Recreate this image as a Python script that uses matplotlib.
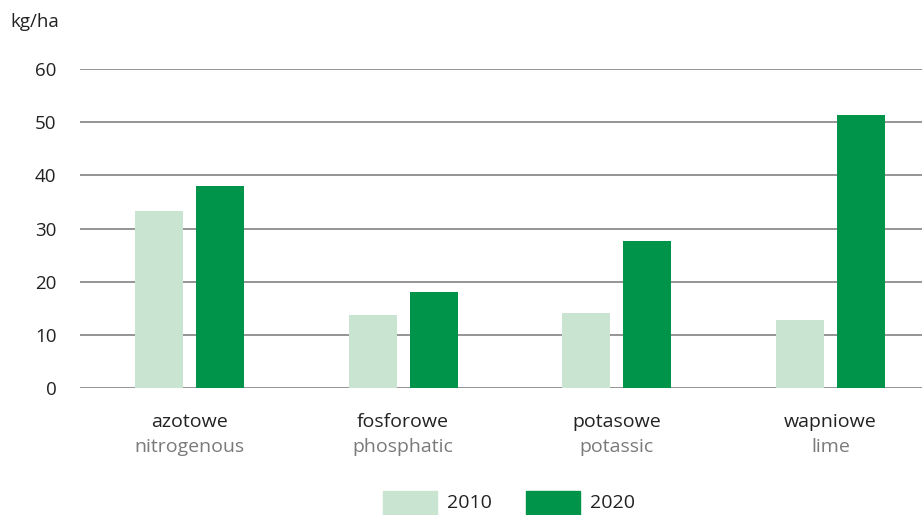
import matplotlib.pyplot as plt
import matplotlib.patches as mpatches
import numpy as np

plt.rcParams['font.family'] = ['Open Sans', 'DejaVu Sans']

# data
categories_pl = ["azotowe", "fosforowe", "potasowe", "wapniowe"]
categories_en = ["nitrogenous", "phosphatic", "potassic", "lime"]
values_2010 = [33.2, 13.8, 14.1, 12.7]
values_2020 = [38.0, 18.1, 27.7, 51.4]
years = ["2010", "2020"]
yticks = [0, 10, 20, 30, 40, 50, 60]

light = "#c9e5d2"
dark = "#00944a"

fig = plt.figure(figsize=(9.22, 5.15), dpi=100)
ax = fig.add_axes([80/922, 127/515, 842/922, 319/515])

x = np.arange(len(categories_pl))
w = 0.225
ax.bar(x - 0.143, values_2010, w, color=light, zorder=3)
ax.bar(x + 0.143, values_2020, w, color=dark, zorder=3)

ax.set_ylim(0, 60)
ax.set_xlim(-0.512, 3.428)
ax.set_yticks(yticks)
for t in yticks:
    ax.axhline(t, color="#777777", lw=1.1, zorder=1)
for s in ax.spines.values():
    s.set_visible(False)
ax.tick_params(axis="y", length=0, labelsize=13.5, pad=17, labelcolor="#222222")
ax.tick_params(axis="x", length=0)
ax.set_xticks([])

for i in x:
    ax.text(i, -6.4, categories_pl[i], ha="center", va="center", fontsize=14, color="#222222")
    ax.text(i, -11.1, categories_en[i], ha="center", va="center", fontsize=14, color="#7a7a7a")

fig.text(10/922, 1 - 22/515, "kg/ha", ha="left", va="center", fontsize=13.5, color="#222222")

# legend
for px, col, lab in [(383, light, years[0]), (526, dark, years[1])]:
    fig.patches.append(mpatches.Rectangle((px/922, 0), 54/922, 24/515,
                                          transform=fig.transFigure, color=col))
    fig.text((px + 64)/922, 1 - 503/515, lab, ha="left", va="center", fontsize=14, color="#222222")

fig.savefig("out.png", dpi=100)
